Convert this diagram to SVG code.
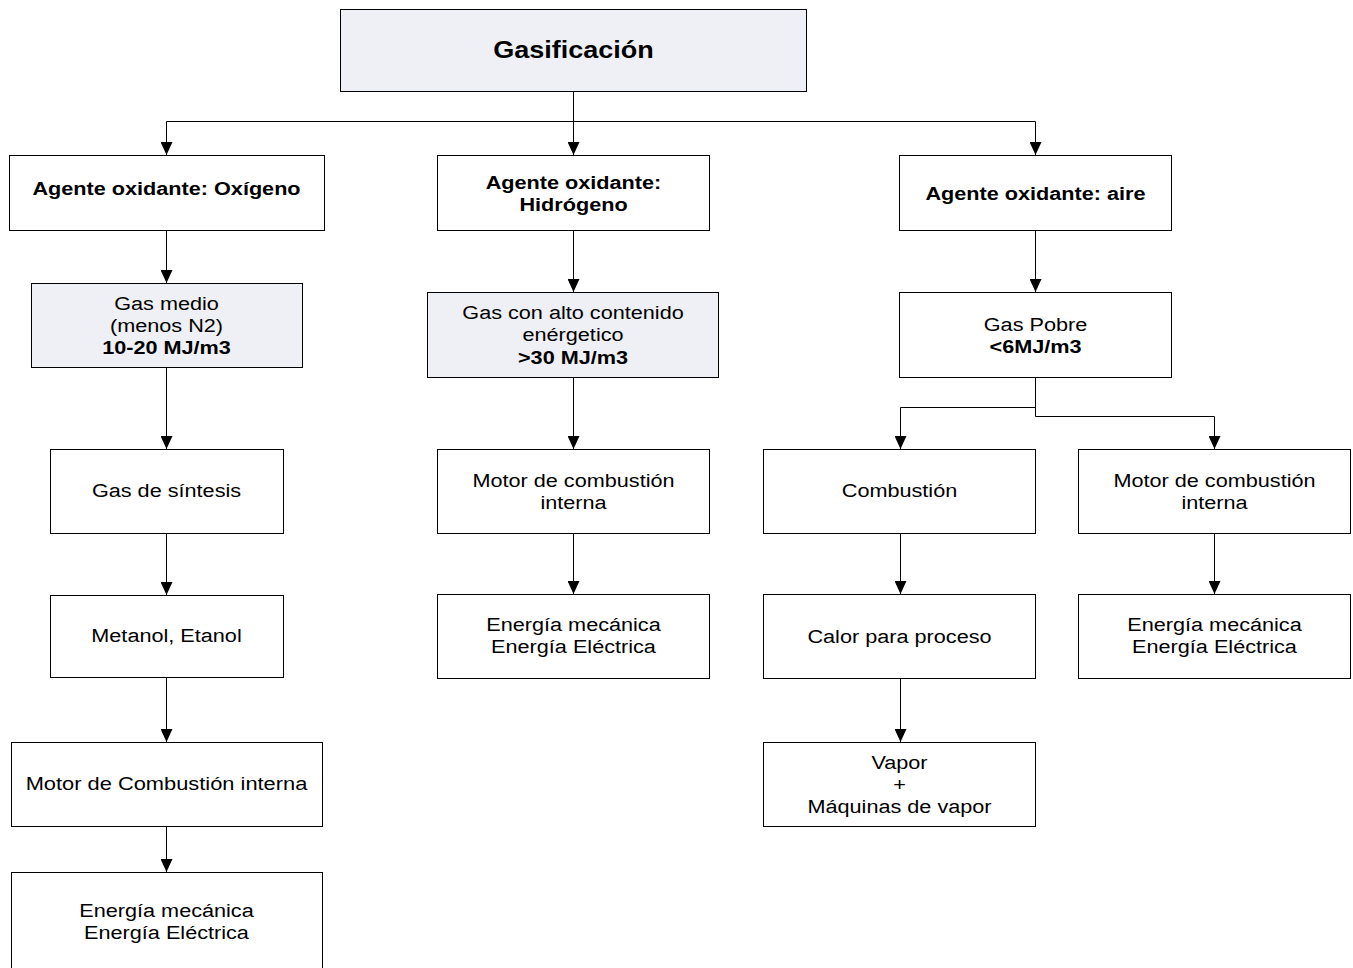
<svg xmlns="http://www.w3.org/2000/svg" width="1353" height="968" viewBox="0 0 1353 968">
<defs>
<style>
.box{fill:#ffffff;stroke:#000;stroke-width:1}
.hl{fill:#eef0f5;stroke:#000;stroke-width:1}
.t{font-family:"Liberation Sans",Arial,sans-serif;font-size:19px;fill:#000;text-anchor:middle}
.b{font-weight:bold}
.h{font-family:"Liberation Sans",Arial,sans-serif;font-size:23.5px;font-weight:bold;fill:#000;text-anchor:middle}
.c{fill:none;stroke:#000;stroke-width:1}
</style>
<marker id="ah" markerUnits="userSpaceOnUse" markerWidth="13" markerHeight="12" refX="13" refY="6" orient="auto" viewBox="0 0 13 12">
<path d="M0,0 L13,6 L0,12 Z" fill="#000"/>
</marker>
</defs>
<rect width="1353" height="968" fill="#ffffff"/>
<g id="connectors">
<path class="c" d="M573.5,91 V121.5 M166.5,121.5 H1035.5"/>
<path class="c" d="M166.5,121.5 V155" marker-end="url(#ah)"/>
<path class="c" d="M573.5,121.5 V155" marker-end="url(#ah)"/>
<path class="c" d="M1035.5,121.5 V155" marker-end="url(#ah)"/>
<path class="c" d="M166.5,230 V283" marker-end="url(#ah)"/>
<path class="c" d="M166.5,367 V449" marker-end="url(#ah)"/>
<path class="c" d="M166.5,533 V595" marker-end="url(#ah)"/>
<path class="c" d="M166.5,677 V742" marker-end="url(#ah)"/>
<path class="c" d="M166.5,826 V872" marker-end="url(#ah)"/>
<path class="c" d="M573.5,230 V292" marker-end="url(#ah)"/>
<path class="c" d="M573.5,377 V449" marker-end="url(#ah)"/>
<path class="c" d="M573.5,533 V594" marker-end="url(#ah)"/>
<path class="c" d="M1035.5,230 V292" marker-end="url(#ah)"/>
<path class="c" d="M1035.5,377 V416.5 H1214.5 V449" marker-end="url(#ah)"/>
<path class="c" d="M1035.5,407.5 H900.5 V449" marker-end="url(#ah)"/>
<path class="c" d="M900.5,533 V594" marker-end="url(#ah)"/>
<path class="c" d="M900.5,678 V742" marker-end="url(#ah)"/>
<path class="c" d="M1214.5,533 V594" marker-end="url(#ah)"/>
</g>
<g id="n-gasificacion">
<rect class="hl" x="340.5" y="9.5" width="466" height="82"/>
<text class="h" transform="translate(573.5,57.5) scale(1.15,1)">Gasificación</text>
</g>
<g id="n-oxigeno">
<rect class="box" x="9.5" y="155.5" width="315" height="75"/>
<text class="t b" transform="translate(166.5,194.5) scale(1.14,1)">Agente oxidante: Oxígeno</text>
</g>
<g id="n-hidrogeno">
<rect class="box" x="437.5" y="155.5" width="272" height="75"/>
<text class="t b" transform="translate(573.5,188.5) scale(1.14,1)">Agente oxidante:</text>
<text class="t b" transform="translate(573.5,210.5) scale(1.14,1)">Hidrógeno</text>
</g>
<g id="n-aire">
<rect class="box" x="899.5" y="155.5" width="272" height="75"/>
<text class="t b" transform="translate(1035.5,199.5) scale(1.14,1)">Agente oxidante: aire</text>
</g>
<g id="n-gasmedio">
<rect class="hl" x="31.5" y="283.5" width="271" height="84"/>
<text class="t" transform="translate(166.5,309.5) scale(1.14,1)">Gas medio</text>
<text class="t" transform="translate(166.5,331.5) scale(1.14,1)">(menos N2)</text>
<text class="t b" transform="translate(166.5,353.5) scale(1.14,1)">10-20 MJ/m3</text>
</g>
<g id="n-gasalto">
<rect class="hl" x="427.5" y="292.5" width="291" height="85"/>
<text class="t" transform="translate(573,318.5) scale(1.14,1)">Gas con alto contenido</text>
<text class="t" transform="translate(573,341) scale(1.14,1)">enérgetico</text>
<text class="t b" transform="translate(573,363.5) scale(1.14,1)">&gt;30 MJ/m3</text>
</g>
<g id="n-gaspobre">
<rect class="box" x="899.5" y="292.5" width="272" height="85"/>
<text class="t" transform="translate(1035.5,330.5) scale(1.14,1)">Gas Pobre</text>
<text class="t b" transform="translate(1035.5,352.5) scale(1.14,1)">&lt;6MJ/m3</text>
</g>
<g id="n-sintesis">
<rect class="box" x="50.5" y="449.5" width="233" height="84"/>
<text class="t" transform="translate(166.5,496.5) scale(1.14,1)">Gas de síntesis</text>
</g>
<g id="n-motor-mid">
<rect class="box" x="437.5" y="449.5" width="272" height="84"/>
<text class="t" transform="translate(573.5,486.5) scale(1.14,1)">Motor de combustión</text>
<text class="t" transform="translate(573.5,508.5) scale(1.14,1)">interna</text>
</g>
<g id="n-combustion">
<rect class="box" x="763.5" y="449.5" width="272" height="84"/>
<text class="t" transform="translate(899.5,496.5) scale(1.14,1)">Combustión</text>
</g>
<g id="n-motor-right">
<rect class="box" x="1078.5" y="449.5" width="272" height="84"/>
<text class="t" transform="translate(1214.5,486.5) scale(1.14,1)">Motor de combustión</text>
<text class="t" transform="translate(1214.5,508.5) scale(1.14,1)">interna</text>
</g>
<g id="n-metanol">
<rect class="box" x="50.5" y="595.5" width="233" height="82"/>
<text class="t" transform="translate(166.5,641.5) scale(1.14,1)">Metanol, Etanol</text>
</g>
<g id="n-energia-mid">
<rect class="box" x="437.5" y="594.5" width="272" height="84"/>
<text class="t" transform="translate(573.5,630.5) scale(1.14,1)">Energía mecánica</text>
<text class="t" transform="translate(573.5,652.5) scale(1.14,1)">Energía Eléctrica</text>
</g>
<g id="n-calor">
<rect class="box" x="763.5" y="594.5" width="272" height="84"/>
<text class="t" transform="translate(899.5,642.5) scale(1.14,1)">Calor para proceso</text>
</g>
<g id="n-energia-right">
<rect class="box" x="1078.5" y="594.5" width="272" height="84"/>
<text class="t" transform="translate(1214.5,630.5) scale(1.14,1)">Energía mecánica</text>
<text class="t" transform="translate(1214.5,652.5) scale(1.14,1)">Energía Eléctrica</text>
</g>
<g id="n-motor-left">
<rect class="box" x="11.5" y="742.5" width="311" height="84"/>
<text class="t" transform="translate(166.5,789.5) scale(1.15,1)">Motor de Combustión interna</text>
</g>
<g id="n-vapor">
<rect class="box" x="763.5" y="742.5" width="272" height="84"/>
<text class="t" transform="translate(899.5,768.5) scale(1.14,1)">Vapor</text>
<text class="t" transform="translate(899.5,790.5) scale(1.14,1)">+</text>
<text class="t" transform="translate(899.5,812.5) scale(1.14,1)">Máquinas de vapor</text>
</g>
<g id="n-energia-left">
<rect class="box" x="11.5" y="872.5" width="311" height="100"/>
<text class="t" transform="translate(166.5,917) scale(1.14,1)">Energía mecánica</text>
<text class="t" transform="translate(166.5,939) scale(1.14,1)">Energía Eléctrica</text>
</g>
</svg>
